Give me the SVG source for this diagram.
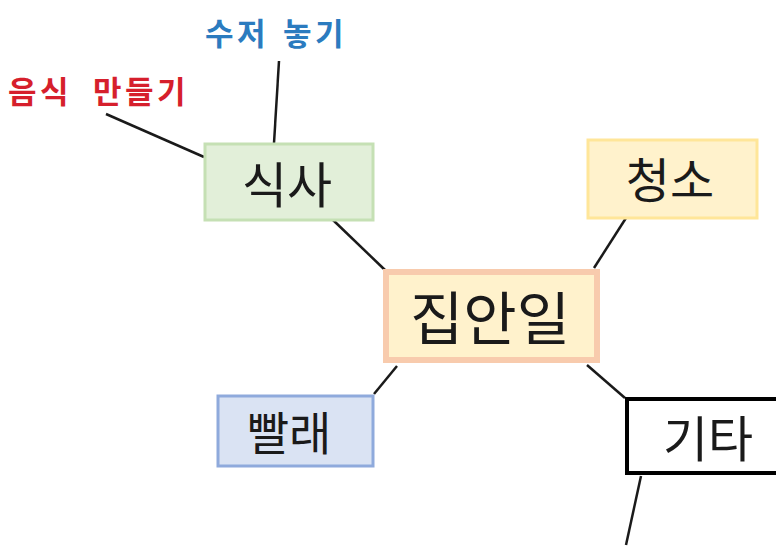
<svg xmlns="http://www.w3.org/2000/svg" width="776" height="553" viewBox="0 0 776 553">
<style>
.t{font-family:"Noto Sans CJK KR","Noto Sans",sans-serif;text-anchor:middle;dominant-baseline:central;fill:#1a1a1a}
.lbl{font-family:"Noto Sans CJK KR","Noto Sans",sans-serif;font-weight:bold;font-size:31px;letter-spacing:3.5px;dominant-baseline:central}
.c{stroke:#1a1a1a;stroke-width:2.5;fill:none}
</style>
<rect width="776" height="553" fill="#ffffff"/>
<g id="connectors">
<line class="c" x1="106" y1="114" x2="204" y2="157"/>
<line class="c" x1="279" y1="61" x2="274" y2="143"/>
<line class="c" x1="333" y1="220" x2="385" y2="270"/>
<line class="c" x1="626" y1="218" x2="594" y2="268"/>
<line class="c" x1="374" y1="394" x2="397" y2="366"/>
<line class="c" x1="587" y1="365" x2="625" y2="398"/>
<line class="c" x1="641" y1="476" x2="626" y2="545"/>
</g>
<g id="label-food">
<text class="lbl" x="8" y="89" fill="#d61f2c">음식 <tspan x="93">만들기</tspan></text>
</g>
<g id="label-spoon">
<text class="lbl" x="205" y="31" fill="#2b7bbf">수저 <tspan x="283">놓기</tspan></text>
</g>
<g id="node-meal">
<rect x="205" y="144" width="168" height="76" fill="#e2efd9" stroke="#c5e0b4" stroke-width="3"/>
<text class="t" x="287" y="181" font-size="49">식사</text>
</g>
<g id="node-clean">
<rect x="588" y="140" width="169" height="78" fill="#fff2cc" stroke="#ffe699" stroke-width="3"/>
<text class="t" x="670" y="177" font-size="48">청소</text>
</g>
<g id="node-home">
<rect x="386" y="272" width="211" height="88" fill="#fff2cc" stroke="#f8cbad" stroke-width="6"/>
<text class="t" x="490" y="315" font-size="58">집안일</text>
</g>
<g id="node-laundry">
<rect x="218" y="396" width="155" height="70" fill="#dae3f3" stroke="#8faadc" stroke-width="3"/>
<text class="t" x="289" y="430" font-size="46">빨래</text>
</g>
<g id="node-etc">
<rect x="627" y="399" width="160" height="74" fill="#ffffff" stroke="#000000" stroke-width="4"/>
<text class="t" x="708" y="435" font-size="49">기타</text>
</g>
</svg>
